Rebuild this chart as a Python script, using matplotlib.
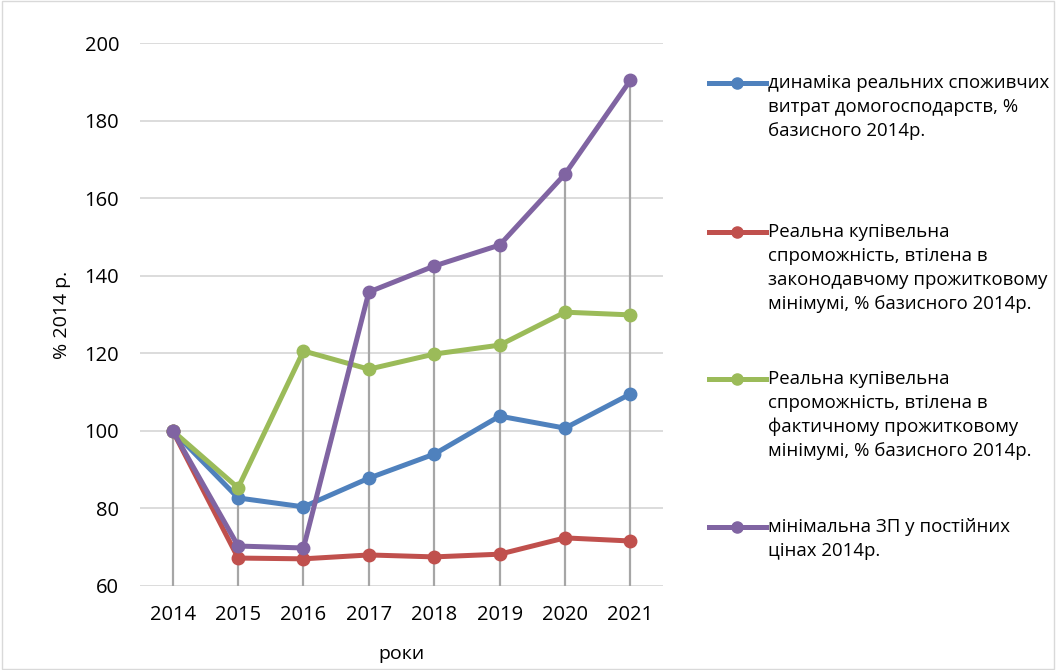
import matplotlib
matplotlib.use("Agg")
import matplotlib.pyplot as plt
from matplotlib.lines import Line2D
from matplotlib.patches import Rectangle

plt.rcParams['font.family'] = ['Open Sans', 'DejaVu Sans']

years = ["2014", "2015", "2016", "2017", "2018", "2019", "2020", "2021"]
spending = [100, 82.7, 80.4, 87.8, 94.0, 103.8, 100.7, 109.5]
legal_min = [100, 67.2, 67.0, 68.0, 67.5, 68.2, 72.4, 71.6]
actual_min = [100, 85.3, 120.6, 115.9, 119.8, 122.1, 130.6, 129.9]
min_wage = [100, 70.3, 69.8, 135.8, 142.5, 147.9, 166.2, 190.4]

labels = [
    "динаміка реальних споживчих\nвитрат домогосподарств, %\nбазисного 2014р.",
    "Реальна купівельна\nспроможність, втілена в\nзаконодавчому прожитковому\nмінімумі, % базисного 2014р.",
    "Реальна купівельна\nспроможність, втілена в\nфактичному прожитковому\nмінімумі, % базисного 2014р.",
    "мінімальна ЗП у постійних\nцінах 2014р.",
]
colors = ["#4F81BD", "#C0504D", "#9BBB59", "#8064A2"]
series = [spending, legal_min, actual_min, min_wage]

fig = plt.figure(figsize=(10.56, 6.7), dpi=100)
ax = fig.add_axes([0.1326, 0.1254, 0.4953, 0.8104])

x = list(range(len(years)))

# drop lines from the highest point down to the axis
tops = [max(vals) for vals in zip(*series)]
ax.vlines(x, 60, tops, color="#A6A6A6", linewidth=1.6, zorder=1)

for vals, c in zip(series, colors):
    ax.plot(x, vals, color=c, linewidth=3.6, marker="o", markersize=9, zorder=3)

ax.set_ylim(60, 200)
ax.set_xlim(-0.5, 7.5)
ax.set_yticks(range(60, 201, 20))
ax.set_xticks(x)
ax.set_xticklabels(years)
ax.yaxis.grid(True, color="#D9D9D9", linewidth=1.3)
ax.set_axisbelow(True)
for s in ax.spines.values():
    s.set_visible(False)
ax.tick_params(length=0, labelsize=14.5, colors="#000000")
ax.tick_params(axis="y", pad=15)
ax.tick_params(axis="x", pad=14)
ax.set_ylabel("% 2014 р.", fontsize=14, labelpad=10)
ax.set_xlabel("роки", fontsize=14, labelpad=14)

# legend drawn by hand so the handle sits at the first text line
leg_y = [83, 232, 379, 527]
for lab, c, py in zip(labels, colors, leg_y):
    yf = 1 - py / 670
    fig.add_artist(Line2D([709 / 1056, 766 / 1056], [yf, yf], color=c, linewidth=3.6,
                          transform=fig.transFigure))
    fig.add_artist(Line2D([737 / 1056], [yf], color=c, marker="o", markersize=8,
                          transform=fig.transFigure))
    fig.text(768 / 1056, yf + 9 / 670, lab, fontsize=13.4, va="top", ha="left",
             linespacing=1.42)

fig.add_artist(Rectangle((0.002, 0.002), 0.996, 0.996, fill=False, edgecolor="#D9D9D9",
                         linewidth=1, transform=fig.transFigure))

fig.savefig("out.png", dpi=100)
